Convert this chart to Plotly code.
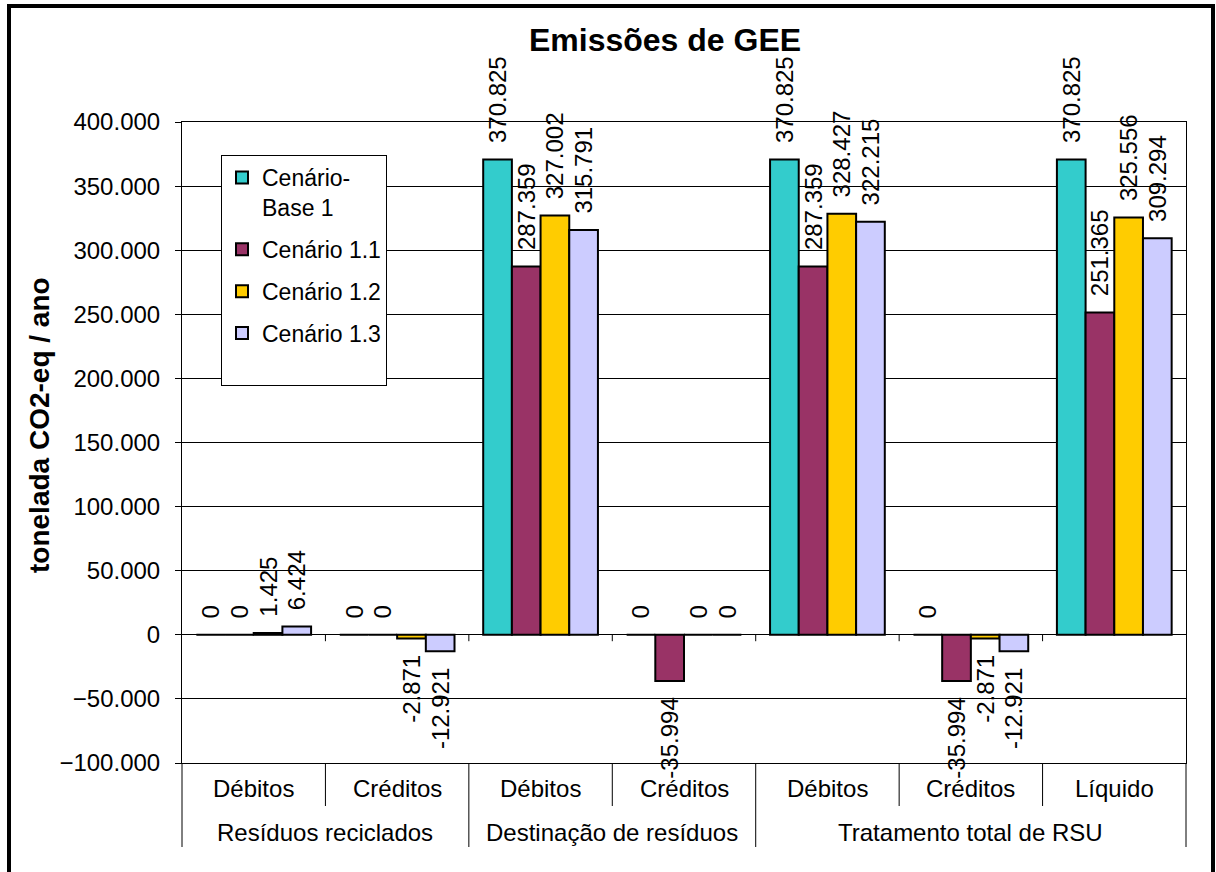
import plotly.graph_objects as go

# Category axis: group (level 1) and sub-category (level 2)
groups = [
    "Resíduos reciclados", "Resíduos reciclados",
    "Destinação de resíduos", "Destinação de resíduos",
    "Tratamento total de RSU", "Tratamento total de RSU", "Tratamento total de RSU",
]
categories = ["Débitos", "Créditos", "Débitos", "Créditos", "Débitos", "Créditos", "Líquido"]

# Emissions (t CO2-eq / ano) per scenario
series_names = ["Cenário-<br>Base 1", "Cenário 1.1", "Cenário 1.2", "Cenário 1.3<br>\u00a0"]
cenario_base_1 = [0, 0, 370825, 0, 370825, 0, 370825]
cenario_1_1 = [0, 0, 287359, -35994, 287359, -35994, 251365]
cenario_1_2 = [1425, -2871, 327002, 0, 328427, -2871, 325556]
cenario_1_3 = [6424, -12921, 315791, 0, 322215, -12921, 309294]
series_values = [cenario_base_1, cenario_1_1, cenario_1_2, cenario_1_3]
series_colors = ["#33CCCC", "#993366", "#FFCC00", "#CCCCFF"]

y_ticks = [-100000, -50000, 0, 50000, 100000, 150000, 200000, 250000, 300000, 350000, 400000]

FONT = "Liberation Sans, Arial, sans-serif"
PAD = "\u00a0\u00a0"


def fmt(v):
    return f"{v:,}".replace(",", ".")


def label(v):
    # pad the end of the label that faces the bar
    return PAD + fmt(v) if v >= 0 else fmt(v) + PAD


fig = go.Figure()
for name, vals, color in zip(series_names, series_values, series_colors):
    fig.add_trace(go.Bar(
        name=name,
        x=[groups, categories],
        y=vals,
        marker=dict(color=color, line=dict(color="#000000", width=2)),
        text=[label(v) for v in vals],
        texttemplate="%{text}",
        textposition="outside",
        textangle=-90,
        constraintext="none",
        cliponaxis=False,
        textfont=dict(family=FONT, size=24, color="#000000"),
        legendgroup=name,
    ))

# plot area height in px, used to convert pixel offsets below the axis
PLOT_H = 641
n = len(categories)

shapes = []
annotations = []

# short ticks under the zero line at category boundaries
for i in range(1, n):
    shapes.append(dict(type="line", xref="paper", yref="y", x0=i / n, x1=i / n,
                       y0=0, y1=-5000, line=dict(color="#000000", width=1)))

# two-row category labels under the axis
group_bounds = [0]
for i in range(1, n):
    if groups[i] != groups[i - 1]:
        group_bounds.append(i)
group_bounds.append(n)

for i in range(1, n):
    if i in group_bounds:
        continue
    shapes.append(dict(type="line", xref="paper", yref="paper", x0=i / n, x1=i / n,
                       y0=0, y1=-43 / PLOT_H, line=dict(color="#000000", width=1)))
for b in group_bounds:
    shapes.append(dict(type="line", xref="paper", yref="paper", x0=b / n, x1=b / n,
                       y0=0, y1=-84 / PLOT_H, line=dict(color="#000000", width=1)))

for i, cat in enumerate(categories):
    annotations.append(dict(text=cat, xref="paper", yref="paper", x=(i + 0.5) / n,
                            y=-25 / PLOT_H, xanchor="center", yanchor="middle",
                            showarrow=False,
                            font=dict(family=FONT, size=24, color="#000000")))
for a, b in zip(group_bounds[:-1], group_bounds[1:]):
    annotations.append(dict(text=groups[a], xref="paper", yref="paper", x=(a + b) / 2 / n,
                            y=-69 / PLOT_H, xanchor="center", yanchor="middle",
                            showarrow=False,
                            font=dict(family=FONT, size=24, color="#000000")))

# y-axis title
annotations.append(dict(text="<b>tonelada CO2-eq / ano</b>", textangle=-90,
                        xref="paper", yref="paper", x=(39 - 182) / 1004, y=(763 - 425) / PLOT_H,
                        xanchor="center", yanchor="middle", showarrow=False,
                        font=dict(family=FONT, size=28, color="#000000")))

# chart frame
shapes.append(dict(type="rect", xref="paper", yref="paper",
                   x0=(9 - 182) / 1004, x1=(1213 - 182) / 1004,
                   y0=(763 - 880) / PLOT_H, y1=(763 - 6) / PLOT_H,
                   line=dict(color="#000000", width=4)))

fig.update_layout(
    width=1216, height=872,
    margin=dict(l=182, r=30, t=122, b=109),
    paper_bgcolor="#FFFFFF", plot_bgcolor="#FFFFFF",
    font=dict(family=FONT, size=24, color="#000000"),
    barmode="group", bargap=0.2, bargroupgap=0,
    separators=",.",
    title=dict(text="<b>Emissões de GEE</b>", x=665 / 1216, xanchor="center",
               y=1 - 40 / 872, yanchor="middle", xref="container", yref="container",
               font=dict(family=FONT, size=32, color="#000000")),
    legend=dict(x=(221 - 182) / 1004, y=(763 - 155) / PLOT_H, xanchor="left", yanchor="top",
                bgcolor="#FFFFFF", bordercolor="#000000", borderwidth=1,
                font=dict(family=FONT, size=23, color="#000000"),
                valign="top", tracegroupgap=9, itemclick=False),
    xaxis=dict(type="multicategory", showline=True, linecolor="#000000", linewidth=1,
               mirror=True, ticks="", showgrid=False, showticklabels=False,
               showdividers=False),
    yaxis=dict(range=[-100000, 400000], tickvals=y_ticks, tickformat=",d",
               showline=True, linecolor="#000000", linewidth=1, mirror=True,
               ticks="outside", ticklen=6, tickcolor="#000000", ticklabelstandoff=10,
               showgrid=True, gridcolor="#000000", gridwidth=1,
               zeroline=True, zerolinecolor="#000000", zerolinewidth=1,
               tickfont=dict(family=FONT, size=24, color="#000000")),
    shapes=shapes,
    annotations=annotations,
)

fig.write_html("out.html")
